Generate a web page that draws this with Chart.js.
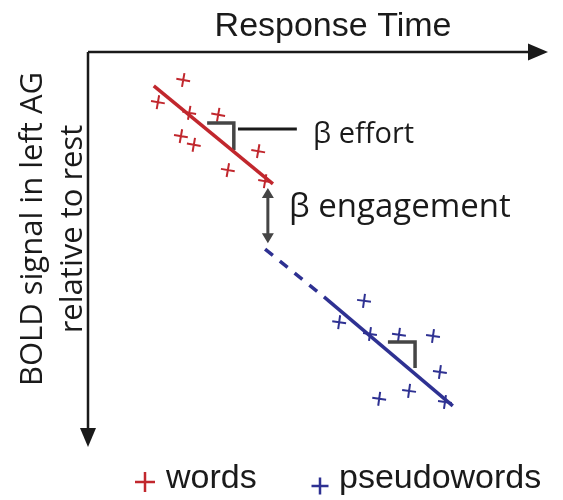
<!DOCTYPE html>
<html>
<head>
<meta charset="utf-8">
<script src="https://cdn.jsdelivr.net/npm/chart.js@4.4.1/dist/chart.umd.min.js"></script>
<style>
  body { margin: 0; background: #fff; }
  #wrap { width: 563px; height: 500px; }
</style>
</head>
<body>
<div id="wrap"><canvas id="chart" width="563" height="500"></canvas></div>
<script>
// words (red) - response time vs BOLD (axis runs downward)
const wordsRT   = [2.07, 1.52, 2.20, 2.83, 2.02, 2.30, 3.70, 3.04, 3.85];
const wordsBold = [0.71, 1.27, 1.54, 1.59, 2.13, 2.35, 2.51, 2.99, 3.27];
// pseudowords (blue)
const pseudoRT   = [6.00, 5.46, 6.13, 6.76, 7.50, 7.65, 6.98, 6.33, 7.76];
const pseudoBold = [6.30, 6.84, 7.14, 7.16, 7.19, 8.10, 8.58, 8.78, 8.86];
// fitted lines (end points)
const wordsFitRT = [1.43, 4.02], wordsFitBold = [0.86, 3.34];
const pseudoFitRT = [5.13, 7.93], pseudoFitBold = [6.20, 8.96];
const extendRT = [3.85, 5.13], extendBold = [4.99, 6.20];
// slope markers
const effortRT = [2.59, 3.17, 3.17], effortBold = [1.80, 1.80, 2.48];
const pseudoStepRT = [6.52, 7.11, 7.11], pseudoStepBold = [7.34, 7.34, 8.00];
const leaderRT = [3.26, 4.54], leaderBold = [1.95, 1.95];
// engagement gap arrow
const gapRT = 3.91, gapBold = [3.44, 4.84];

const RED = '#c1272d';
const BLUE = '#2e3192';
const GREY = '#454545';
const INK = '#1a1a1a';

const pts = (xs, ys) => xs.map((x, i) => ({ x: x, y: ys[i] }));

const lineSet = (xs, ys, color, width, dash) => ({
  type: 'line',
  data: pts(xs, ys),
  borderColor: color,
  borderWidth: width,
  borderDash: dash || [],
  pointRadius: 0,
  fill: false,
  tension: 0
});

const sketch = {
  id: 'sketch',
  afterDraw(chart) {
    const { ctx, chartArea: a, scales: { x, y } } = chart;
    ctx.save();

    // axes with arrow heads
    ctx.strokeStyle = INK;
    ctx.fillStyle = INK;
    ctx.lineWidth = 2.5;
    ctx.beginPath();
    ctx.moveTo(a.left, a.top);
    ctx.lineTo(a.right - 16, a.top);
    ctx.moveTo(a.left, a.top);
    ctx.lineTo(a.left, a.bottom - 16);
    ctx.stroke();
    ctx.beginPath();
    ctx.moveTo(a.right, a.top);
    ctx.lineTo(a.right - 20, a.top - 8.5);
    ctx.lineTo(a.right - 20, a.top + 8.5);
    ctx.closePath();
    ctx.fill();
    ctx.beginPath();
    ctx.moveTo(a.left, a.bottom);
    ctx.lineTo(a.left - 8, a.bottom - 19);
    ctx.lineTo(a.left + 8, a.bottom - 19);
    ctx.closePath();
    ctx.fill();

    // engagement double arrow
    const gx = x.getPixelForValue(gapRT);
    const g0 = y.getPixelForValue(gapBold[0]);
    const g1 = y.getPixelForValue(gapBold[1]);
    ctx.strokeStyle = GREY;
    ctx.fillStyle = GREY;
    ctx.lineWidth = 3;
    ctx.beginPath();
    ctx.moveTo(gx, g0 + 8);
    ctx.lineTo(gx, g1 - 8);
    ctx.stroke();
    ctx.beginPath();
    ctx.moveTo(gx, g0);
    ctx.lineTo(gx - 6, g0 + 10);
    ctx.lineTo(gx + 6, g0 + 10);
    ctx.closePath();
    ctx.moveTo(gx, g1);
    ctx.lineTo(gx - 6, g1 - 10);
    ctx.lineTo(gx + 6, g1 - 10);
    ctx.closePath();
    ctx.fill();

    // texts
    ctx.fillStyle = INK;
    ctx.textBaseline = 'alphabetic';
    ctx.textAlign = 'center';
    ctx.font = '34px "Liberation Sans", Arial, sans-serif';
    ctx.fillText('Response Time', 333, 36);

    ctx.textAlign = 'left';
    ctx.font = '29px "Open Sans", sans-serif';
    ctx.fillText('\u03b2 effort', 313, 143);
    ctx.font = '33px "Open Sans", sans-serif';
    ctx.fillText('\u03b2 engagement', 289, 217);

    ctx.save();
    ctx.translate(0, 229);
    ctx.rotate(-Math.PI / 2);
    ctx.textAlign = 'center';
    ctx.font = '31px "Open Sans", sans-serif';
    ctx.fillText('BOLD signal in left AG', 0, 42);
    ctx.fillText('relative to rest', 0, 82);
    ctx.restore();

    // legend
    const plus = (cx, cy, h, color) => {
      ctx.strokeStyle = color;
      ctx.lineWidth = 2.5;
      ctx.beginPath();
      ctx.moveTo(cx - h, cy);
      ctx.lineTo(cx + h, cy);
      ctx.moveTo(cx, cy - h);
      ctx.lineTo(cx, cy + h);
      ctx.stroke();
    };
    plus(145, 482, 10, RED);
    plus(320, 486, 8.5, BLUE);
    ctx.fillStyle = INK;
    ctx.font = '34px "Liberation Sans", Arial, sans-serif';
    ctx.fillText('words', 166, 488);
    ctx.fillText('pseudowords', 339, 488);

    ctx.restore();
  }
};

new Chart(document.getElementById('chart'), {
  type: 'scatter',
  data: {
    datasets: [
      lineSet(wordsFitRT, wordsFitBold, RED, 3.5),
      lineSet(pseudoFitRT, pseudoFitBold, BLUE, 3.5),
      lineSet(extendRT, extendBold, BLUE, 3.5, [10, 9]),
      lineSet(effortRT, effortBold, GREY, 3.5),
      lineSet(pseudoStepRT, pseudoStepBold, GREY, 3.5),
      lineSet(leaderRT, leaderBold, INK, 3),
      {
        label: 'words',
        data: pts(wordsRT, wordsBold),
        pointStyle: 'cross',
        pointRadius: 7,
        pointRotation: 10,
        borderColor: RED,
        borderWidth: 2
      },
      {
        label: 'pseudowords',
        data: pts(pseudoRT, pseudoBold),
        pointStyle: 'cross',
        pointRadius: 7,
        pointRotation: 8,
        borderColor: BLUE,
        borderWidth: 2
      }
    ]
  },
  options: {
    responsive: false,
    animation: false,
    clip: false,
    layout: { padding: { left: 88, top: 52, right: 15, bottom: 53 } },
    plugins: {
      legend: { display: false },
      tooltip: { enabled: false }
    },
    scales: {
      x: { display: false, min: 0, max: 10 },
      y: { display: false, min: 0, max: 10, reverse: true }
    }
  },
  plugins: [sketch]
});
</script>
</body>
</html>
